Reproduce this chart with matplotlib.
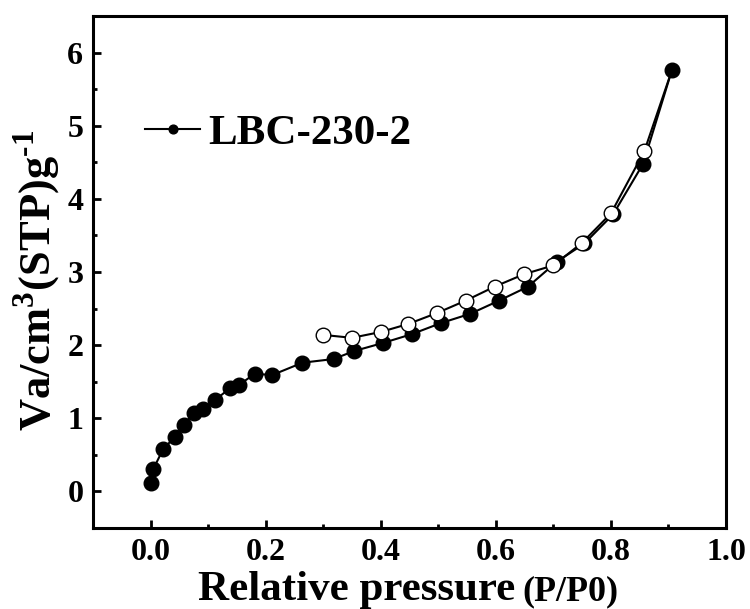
import matplotlib
matplotlib.use("Agg")
import matplotlib.pyplot as plt
from matplotlib.ticker import MultipleLocator

# Adsorption branch (filled circles)
ads_x = [0.001, 0.005, 0.022, 0.043, 0.058, 0.075, 0.091, 0.112, 0.138, 0.153,
         0.181, 0.211, 0.264, 0.318, 0.354, 0.404, 0.454, 0.504, 0.556, 0.606,
         0.656, 0.706, 0.754, 0.804, 0.856, 0.906]
ads_y = [0.12, 0.31, 0.58, 0.75, 0.91, 1.07, 1.13, 1.25, 1.41, 1.45,
         1.61, 1.59, 1.76, 1.81, 1.92, 2.03, 2.15, 2.30, 2.43, 2.61,
         2.80, 3.14, 3.39, 3.79, 4.48, 5.76]
# Desorption branch (open circles)
des_x = [0.858, 0.800, 0.750, 0.700, 0.649, 0.598, 0.548, 0.498, 0.448, 0.400, 0.350, 0.300]
des_y = [4.65, 3.80, 3.40, 3.09, 2.97, 2.80, 2.61, 2.44, 2.29, 2.18, 2.10, 2.14]

series_label = "LBC-230-2"
xticks = [0.0, 0.2, 0.4, 0.6, 0.8, 1.0]
xtick_labels = ["0.0", "0.2", "0.4", "0.6", "0.8", "1.0"]
yticks = [0, 1, 2, 3, 4, 5, 6]

plt.rcParams['font.family'] = ['Liberation Serif', 'DejaVu Serif']
plt.rcParams['font.weight'] = 'bold'
plt.rcParams['mathtext.fontset'] = 'custom'
plt.rcParams['mathtext.rm'] = 'Liberation Serif'
plt.rcParams['mathtext.bf'] = 'Liberation Serif:bold'

fig = plt.figure(figsize=(7.5, 6.09), dpi=100)
W, H = 750, 609
ax = fig.add_axes([93 / W, 1 - 528 / H, (726 - 93) / W, (528 - 16) / H])

# adsorption
ax.plot(ads_x, ads_y, color='black', lw=1.5, marker='o', ms=10.5,
        mfc='black', mec='black', mew=1.0, label=series_label, zorder=3)
# desorption line starts from the top adsorption point
ax.plot([ads_x[-1]] + des_x, [ads_y[-1]] + des_y, color='black', lw=1.5, zorder=4)
ax.plot(des_x, des_y, ls='none', marker='o', ms=10.5, mfc='white',
        mec='black', mew=1.0, zorder=5)

ax.set_xlim(-0.1, 1.0)
ax.set_ylim(-0.5, 6.5)
ax.set_xticks(xticks)
ax.set_xticklabels(xtick_labels)
ax.set_yticks(yticks)
ax.xaxis.set_minor_locator(MultipleLocator(0.1))
ax.yaxis.set_minor_locator(MultipleLocator(0.5))
ax.tick_params(which='both', direction='in', top=False, right=False, width=2.0)
ax.tick_params(which='major', length=6, labelsize=23, pad=7)
ax.tick_params(which='minor', length=3)
for lab in ax.get_xticklabels() + ax.get_yticklabels():
    lab.set_fontweight('bold')
for s in ax.spines.values():
    s.set_linewidth(2.2)

# legend
leg = ax.legend(loc='center left', bbox_to_anchor=((145 - 93) / 633, (528 - 133) / 512),
                frameon=False, handlelength=1.28, handletextpad=0.2,
                markerscale=0.6, borderpad=0, borderaxespad=0,
                prop={'weight': 'bold', 'size': 31})

# x label in two pieces
fig.text(515 / W, 9 / H, "Relative pressure", ha='right', va='baseline',
         fontsize=31, fontweight='bold')
fig.text(522 / W, 9 / H, "(P/P0)", ha='left', va='baseline',
         fontsize=26, fontweight='bold')

# y label
fig.text(37 / W, 1 - 280 / H, "Va/cm$^{3}$(STP)g$^{\u2010 1}$", rotation=90,
         ha='center', va='center', fontsize=32, fontweight='bold')

fig.savefig("out.png", dpi=100)
